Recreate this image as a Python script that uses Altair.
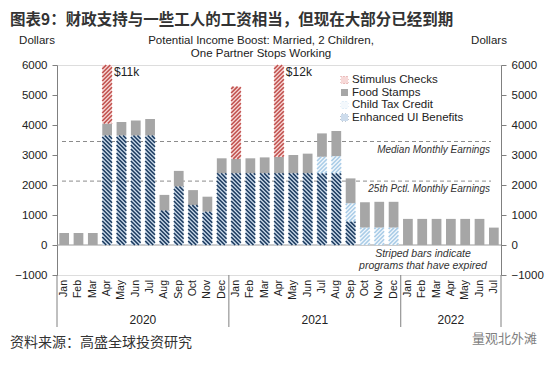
import math
import altair as alt
import pandas as pd

# ---------------- data ----------------
month_labels = ["Jan", "Feb", "Mar", "Apr", "May", "Jun", "Jul", "Aug", "Sep", "Oct", "Nov", "Dec",
                "Jan", "Feb", "Mar", "Apr", "May", "Jun", "Jul", "Aug", "Sep", "Oct", "Nov", "Dec",
                "Jan", "Feb", "Mar", "Apr", "May", "Jun", "Jul"]
year_labels = ["2020"] * 12 + ["2021"] * 12 + ["2022"] * 7

ui_benefits = [0, 0, 0, 3650, 3650, 3650, 3650, 1145, 1950, 1330, 1110, 2390,
               2390, 2390, 2390, 2390, 2390, 2390, 2390, 2390, 780, 0, 0, 0,
               0, 0, 0, 0, 0, 0, 0]
child_tax_credit = [0, 0, 0, 0, 0, 0, 0, 0, 0, 0, 0, 0,
                    0, 0, 0, 0, 0, 0, 550, 570, 610, 580, 580, 580,
                    0, 0, 0, 0, 0, 0, 0]
food_stamps = [400, 400, 400, 400, 450, 500, 550, 525, 520, 500, 500, 500,
               480, 500, 530, 550, 610, 655, 780, 840, 830, 845, 860, 860,
               870, 870, 870, 870, 870, 870, 580]
stimulus_checks = [0, 0, 0, 6950, 0, 0, 0, 0, 0, 0, 0, 0,
                   2410, 0, 0, 9060, 0, 0, 0, 0, 0, 0, 0, 0,
                   0, 0, 0, 0, 0, 0, 0]

series_order = ["Enhanced UI Benefits", "Child Tax Credit", "Food Stamps", "Stimulus Checks"]
legend_order = ["Stimulus Checks", "Food Stamps", "Child Tax Credit", "Enhanced UI Benefits"]
series_values = {
    "Enhanced UI Benefits": ui_benefits,
    "Child Tax Credit": child_tax_credit,
    "Food Stamps": food_stamps,
    "Stimulus Checks": stimulus_checks,
}

ref_values = [3450, 2130]
ref_labels = ["Median Monthly Earnings", "25th Pctl. Monthly Earnings"]

annot_index = [3, 15]
annot_text = ["$11k", "$12k"]

# ---------------- style ----------------
W, H = 444, 210
YMIN, YMAX = -1000, 6000
N = len(month_labels)
PXM = W / N                  # px per month
PYU = H / (YMAX - YMIN)      # px per dollar
BW = 0.68                    # bar width in months

base_fill = ["#cddcec", "#f3f8fc", "#a6a6a6", "#f7d9d8"]
stripe_col = ["#1b3a5e", "#a9cce7", "#a6a6a6", "#c0504d"]
stripe_dir = {"Enhanced UI Benefits": "\\", "Child Tax Credit": "/", "Stimulus Checks": "/"}
FONT = "Liberation Sans"
CJK = "Noto Sans CJK SC"

# ---------------- build tables ----------------
rows = []
for i in range(N):
    base = 0
    for s in series_order:
        v = series_values[s][i]
        if v > 0:
            rows.append(dict(i=i, series=s, y0=base, y1=base + v))
            base += v
seg = pd.DataFrame(rows)


def hatch(x_left, w_px, y_bot, y_top, direction, series, period=4.0):
    v0, v1 = y_bot * PYU, y_top * PYU
    out = []
    if direction == "\\":
        for k in range(math.floor(v0 / period), math.ceil((v1 + w_px) / period) + 1):
            c = k * period
            ua, ub = max(0.0, c - v1), min(w_px, c - v0)
            if ub - ua > 0.05:
                out.append(dict(sx=x_left + ua / PXM, sy=(c - ua) / PYU,
                                sx2=x_left + ub / PXM, sy2=(c - ub) / PYU, series=series))
    else:
        for k in range(math.floor((v0 - w_px) / period), math.ceil(v1 / period) + 1):
            c = k * period
            ua, ub = max(0.0, v0 - c), min(w_px, v1 - c)
            if ub - ua > 0.05:
                out.append(dict(sx=x_left + ua / PXM, sy=(c + ua) / PYU,
                                sx2=x_left + ub / PXM, sy2=(c + ub) / PYU, series=series))
    return out


stripes = []
for r in rows:
    if r["series"] in stripe_dir:
        stripes += hatch(r["i"] - BW / 2, BW * PXM, r["y0"], min(r["y1"], YMAX),
                         stripe_dir[r["series"]], r["series"])


# legend (pixel layout converted to data units)
def px2x(px):
    return px / PXM - 0.5


def py2y(py):
    return YMAX - py / PYU


leg_rows = []
for k, s in enumerate(legend_order):
    cy = 15.0 + 12.5 * k
    leg_rows.append(dict(series=s, lx=px2x(284), lx2=px2x(291), ly=py2y(cy + 3.5), ly2=py2y(cy - 3.5),
                         tx=px2x(295), ty=py2y(cy)))
    if s in stripe_dir:
        stripes += hatch(px2x(284), 7, py2y(cy + 3.5), py2y(cy - 3.5), stripe_dir[s], s, period=3.0)
leg = pd.DataFrame(leg_rows)
stripe_df = pd.DataFrame(stripes)

months_df = pd.DataFrame({"i": list(range(N)), "m": month_labels, "yr": year_labels})
years_df = pd.DataFrame({"yr": sorted(set(year_labels))})
years_df["mid"] = [months_df[months_df.yr == y].i.mean() for y in years_df.yr]
bounds = sorted(set([months_df[months_df.yr == y].i.min() - 0.5 for y in years_df.yr] + [N - 0.5]))
bounds_df = pd.DataFrame({"b": bounds})

ref_df = pd.DataFrame({"v": ref_values, "lab": ref_labels})
annot_df = pd.DataFrame({"idx": annot_index, "t": annot_text})
zero_df = pd.DataFrame({"z": [0]})
one = pd.DataFrame({"a": [0]})

xscale = alt.Scale(domain=[-0.5, N - 0.5], nice=False, zero=False)
yscale = alt.Scale(domain=[YMIN, YMAX], nice=False, zero=False, clamp=True)

axis_common = dict(grid=False, title=None, domainColor="#808080", tickColor="#808080",
                   labelFont=FONT, labelFontSize=11.5, labelColor="#222222")
left_axis = alt.Axis(orient="left", values=list(range(YMIN, YMAX + 1, 1000)), tickSize=5,
                     labelPadding=5, format="d", **axis_common)
right_axis = alt.Axis(orient="right", values=list(range(YMIN, YMAX + 1, 1000)), tickSize=5,
                      labelPadding=5, format="d", **axis_common)
x_axis = alt.Axis(orient="bottom", values=[k - 0.5 for k in range(N + 1)], labels=False,
                  tickSize=4, **axis_common)

# ---------------- layers ----------------
ref_lines = alt.Chart(ref_df).mark_rule(color="#8c8c8c", strokeDash=[4, 3], strokeWidth=1).encode(
    y=alt.Y("v:Q", scale=yscale, axis=None), x=alt.value(5), x2=alt.value(434))
ref_text = alt.Chart(ref_df).mark_text(align="right", baseline="middle", dy=8, font=FONT,
                                       fontStyle="italic", fontSize=10, color="#333333").encode(
    y=alt.Y("v:Q", scale=yscale, axis=None), x=alt.value(433), text="lab:N")

zero_line = alt.Chart(zero_df).mark_rule(color="#9a9a9a", strokeWidth=1).encode(
    y=alt.Y("z:Q", scale=yscale, axis=right_axis))

bars = alt.Chart(seg).transform_calculate(
    xl=f"datum.i - {BW / 2}", xr=f"datum.i + {BW / 2}"
).mark_rect(clip=True).encode(
    x=alt.X("xl:Q", scale=xscale, axis=x_axis), x2="xr:Q",
    y=alt.Y("y0:Q", scale=yscale, axis=left_axis), y2="y1:Q",
    fill=alt.Fill("series:N", scale=alt.Scale(domain=series_order, range=base_fill), legend=None))

hatch_layer = alt.Chart(stripe_df).mark_rule(strokeWidth=1.6, strokeCap="butt").encode(
    x=alt.X("sx:Q", scale=xscale, axis=None), x2="sx2:Q",
    y=alt.Y("sy:Q", scale=yscale, axis=None), y2="sy2:Q",
    stroke=alt.Stroke("series:N", scale=alt.Scale(domain=series_order, range=stripe_col), legend=None))

annots = alt.Chart(annot_df).transform_calculate(ax=f"datum.idx + {BW / 2}").mark_text(
    align="left", baseline="middle", dx=2, font=FONT, fontSize=12, color="#222222").encode(
    x=alt.X("ax:Q", scale=xscale, axis=None), y=alt.value(7), text="t:N")

leg_sw = alt.Chart(leg).mark_rect().encode(
    x=alt.X("lx:Q", scale=xscale, axis=None), x2="lx2:Q",
    y=alt.Y("ly:Q", scale=yscale, axis=None), y2="ly2:Q",
    fill=alt.Fill("series:N", scale=alt.Scale(domain=series_order, range=base_fill), legend=None))
leg_txt = alt.Chart(leg).mark_text(align="left", baseline="middle", font=FONT, fontSize=11.5,
                                   color="#222222").encode(
    x=alt.X("tx:Q", scale=xscale, axis=None), y=alt.Y("ty:Q", scale=yscale, axis=None), text="series:N")

month_txt = alt.Chart(months_df).mark_text(angle=270, align="right", baseline="middle", font=FONT,
                                           fontSize=10.5, color="#222222").encode(
    x=alt.X("i:Q", scale=xscale, axis=None), y=alt.value(H + 5), text="m:N")
year_txt = alt.Chart(years_df).mark_text(align="center", baseline="middle", font=FONT, fontSize=12,
                                         color="#222222").encode(
    x=alt.X("mid:Q", scale=xscale, axis=None), y=alt.value(H + 45), text="yr:N")
year_sep = alt.Chart(bounds_df).mark_rule(color="#808080", strokeWidth=1).encode(
    x=alt.X("b:Q", scale=xscale, axis=None), y=alt.value(H), y2=alt.value(H + 52))

note = alt.Chart(one).mark_text(align="center", baseline="top", font=FONT, fontStyle="italic",
                                fontSize=10.5, lineHeight=12, color="#333333").encode(
    x=alt.value(366), y=alt.value(184),
    text=alt.value(["Striped bars indicate", "programs that have expired"]))

headline = alt.Chart(one).mark_text(align="left", baseline="middle", font=CJK, fontSize=15.5,
                                    fontWeight="bold", color="#333333").encode(
    x=alt.value(-47), y=alt.value(-45),
    text=alt.value("图表9：财政支持与一些工人的工资相当，但现在大部分已经到期"))
subtitle = alt.Chart(one).mark_text(align="center", baseline="middle", font=FONT, fontSize=11.5,
                                    lineHeight=12.5, color="#222222").encode(
    x=alt.value(204), y=alt.value(-24),
    text=alt.value(["Potential Income Boost: Married, 2 Children,", "One Partner Stops Working"]))
dollars_l = alt.Chart(one).mark_text(align="center", baseline="middle", font=FONT, fontSize=11.5,
                                     color="#222222").encode(
    x=alt.value(-20), y=alt.value(-24), text=alt.value("Dollars"))
dollars_r = alt.Chart(one).mark_text(align="center", baseline="middle", font=FONT, fontSize=11.5,
                                     color="#222222").encode(
    x=alt.value(432), y=alt.value(-24), text=alt.value("Dollars"))
source = alt.Chart(one).mark_text(align="left", baseline="middle", font=CJK, fontSize=14,
                                  color="#333333").encode(
    x=alt.value(-47), y=alt.value(278), text=alt.value("资料来源：高盛全球投资研究"))
watermark = alt.Chart(one).mark_text(align="left", baseline="middle", font=CJK, fontSize=13,
                                     color="#7f7f7f").encode(
    x=alt.value(415), y=alt.value(274), text=alt.value("量观北外滩"))

chart = alt.layer(
    ref_lines, ref_text, zero_line, bars, hatch_layer, annots, leg_sw, leg_txt,
    month_txt, year_txt, year_sep, note, headline, subtitle, dollars_l, dollars_r, source, watermark
).resolve_axis(y="independent").properties(
    width=W, height=H,
    autosize=alt.AutoSizeParams(type="none"),
    padding={"left": 49, "top": 57, "right": 45, "bottom": 76},
).configure_view(stroke=None).configure(background="white")

chart.save("out.html", embed_options={"renderer": "svg", "actions": False})
